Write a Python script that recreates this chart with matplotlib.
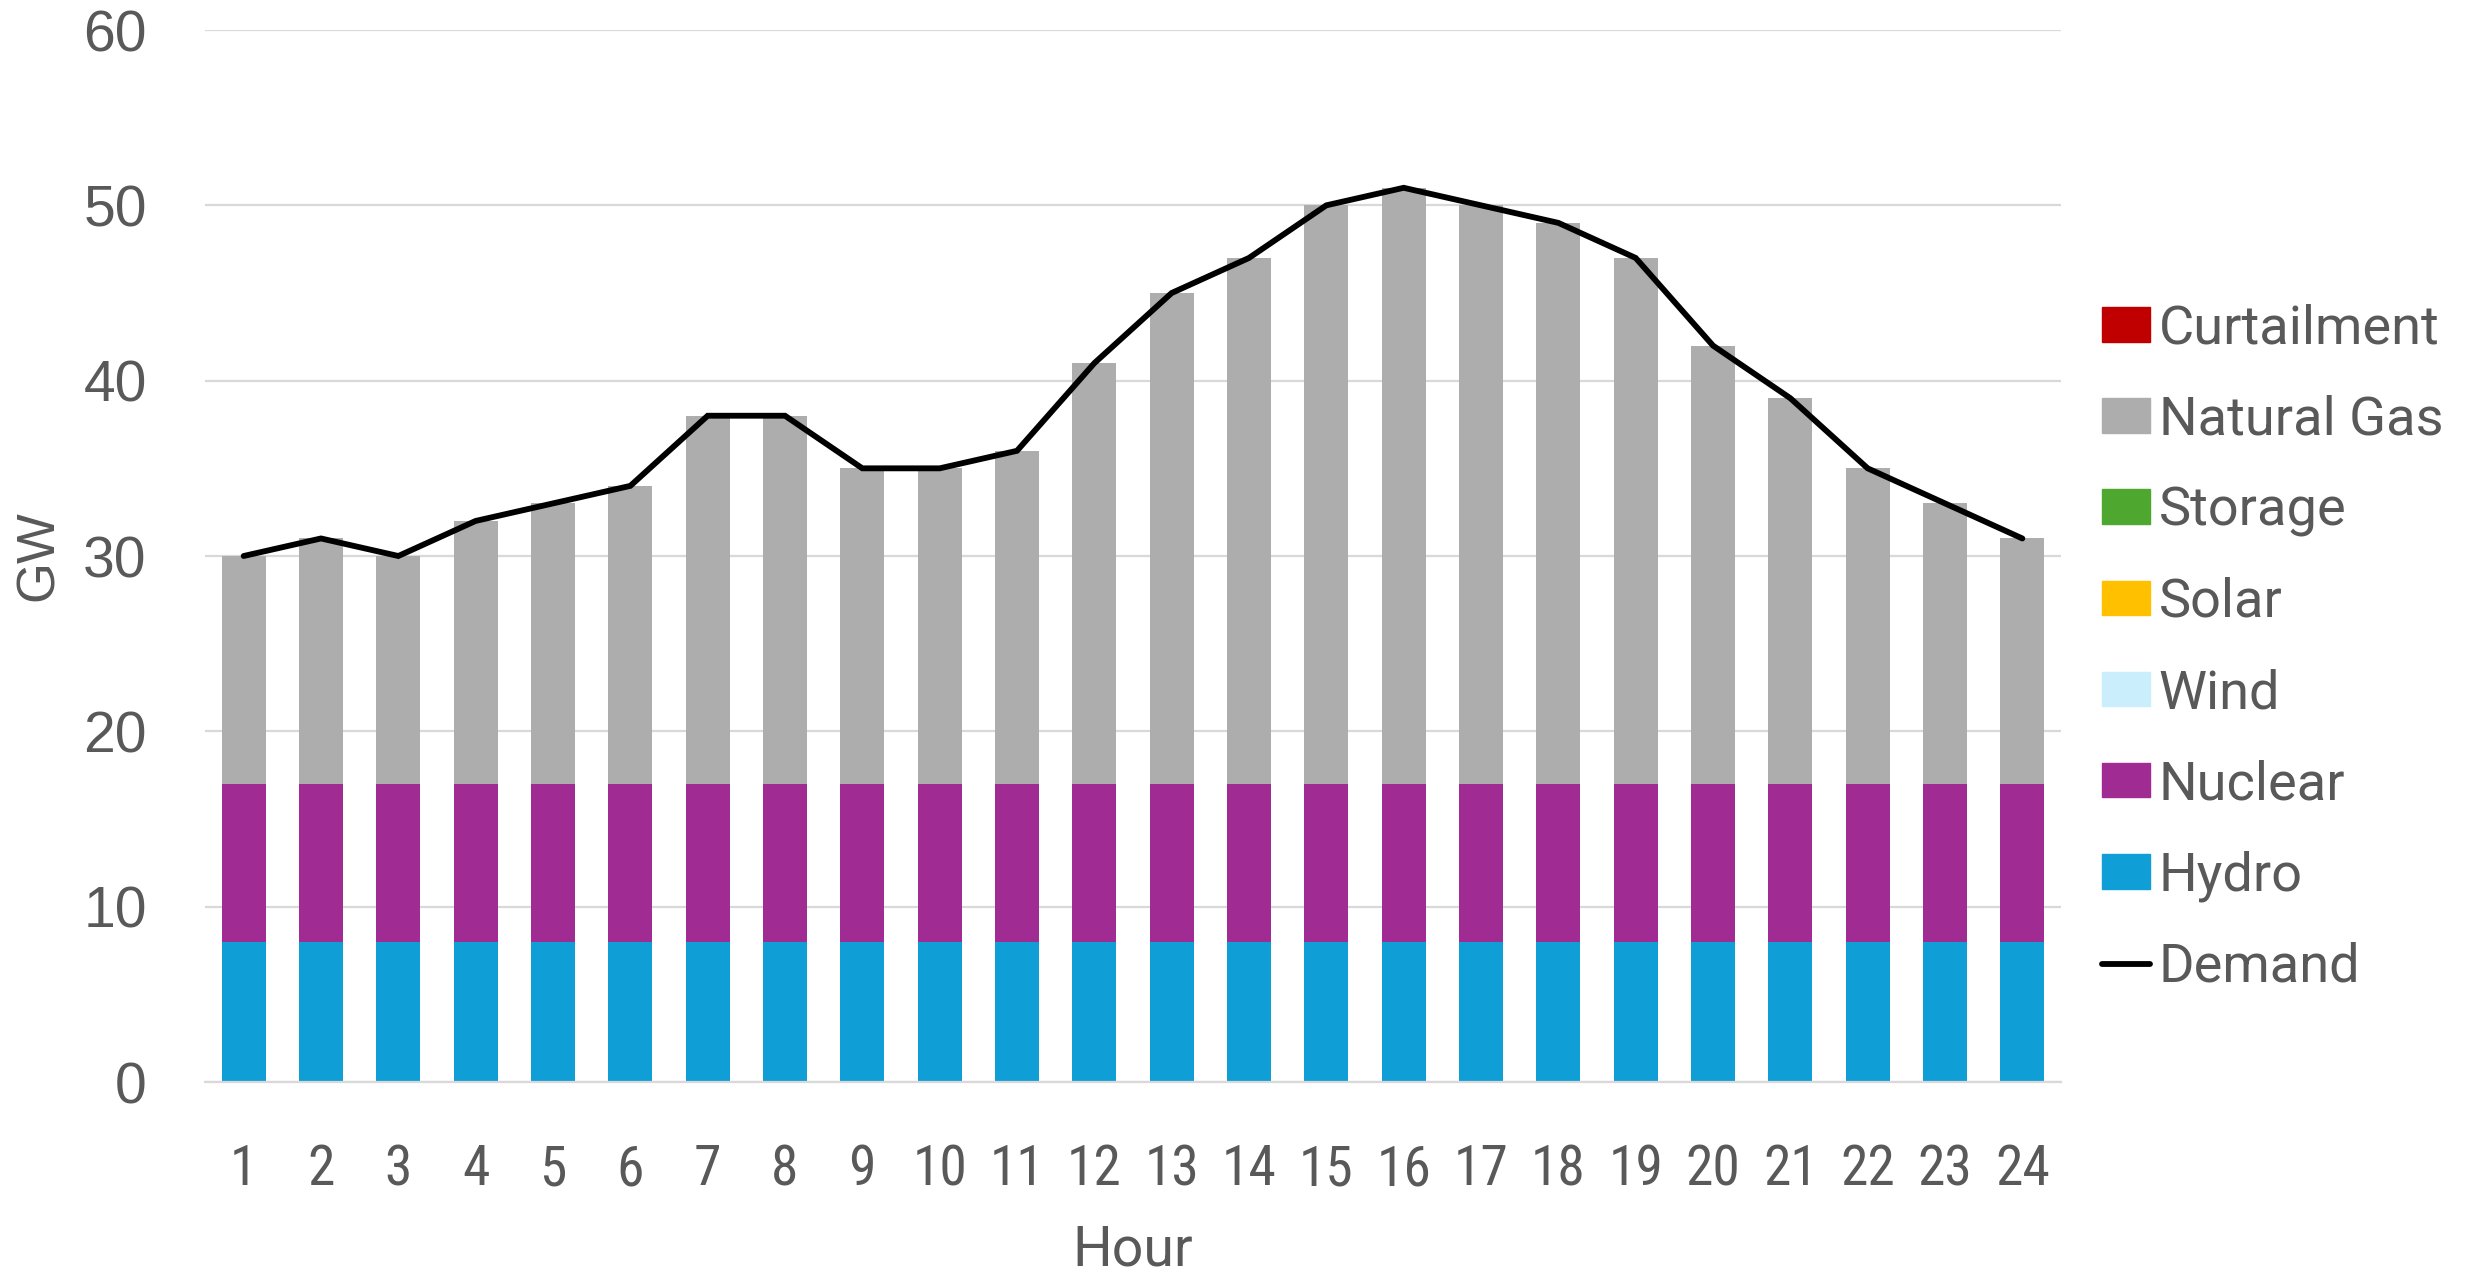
import matplotlib
matplotlib.use("Agg")
import matplotlib.pyplot as plt
import numpy as np
from matplotlib.patches import Patch
from matplotlib.lines import Line2D

hours = list(range(1, 25))
hydro = [8] * 24
nuclear = [9] * 24
wind = [0] * 24
solar = [0] * 24
storage = [0] * 24
natural_gas = [13, 14, 13, 15, 16, 17, 21, 21, 18, 18, 19, 24,
               28, 30, 33, 34, 33, 32, 30, 25, 22, 18, 16, 14]
curtailment = [0] * 24
demand = [30, 31, 30, 32, 33, 34, 38, 38, 35, 35, 36, 41,
          45, 47, 50, 51, 50, 49, 47, 42, 39, 35, 33, 31]

series = [
    ("Hydro", hydro, "#0F9ED5"),
    ("Nuclear", nuclear, "#A02B93"),
    ("Wind", wind, "#CAEEFB"),
    ("Solar", solar, "#FFC000"),
    ("Storage", storage, "#4EA72E"),
    ("Natural Gas", natural_gas, "#ADADAD"),
    ("Curtailment", curtailment, "#C00000"),
]

TXT = "#595959"
plt.rcParams['font.family'] = ['Liberation Sans', 'DejaVu Sans']

fig = plt.figure(figsize=(24.73, 12.72), dpi=100)
ax = fig.add_axes([205 / 2473, 1 - 1082 / 1272, (2061 - 205) / 2473, (1082 - 30) / 1272])

x = np.array(hours)
bottom = np.zeros(24)
for name, vals, col in series:
    v = np.array(vals, dtype=float)
    ax.bar(x, v, width=0.57, bottom=bottom, color=col, zorder=2)
    bottom += v

ax.plot(x, demand, color="black", lw=4.2, zorder=3, solid_joinstyle='miter',
        solid_capstyle='round')

ax.set_xlim(0.5, 24.5)
ax.set_ylim(0, 60)
ax.set_yticks(range(0, 61, 10))
ax.set_xticks(x)
ax.set_xticklabels([str(h) for h in hours], family=['Roboto Condensed', 'Liberation Sans'])
ax.grid(axis='y', color="#D9D9D9", lw=1.6, zorder=0)
ax.set_axisbelow(True)
for s in ['top', 'right', 'left']:
    ax.spines[s].set_visible(False)
ax.spines['bottom'].set_color("#D9D9D9")
ax.spines['bottom'].set_linewidth(1.6)
ax.tick_params(axis='both', length=0, colors=TXT)
ax.tick_params(axis='y', labelsize=41, pad=42)
ax.tick_params(axis='x', labelsize=40, pad=44)

ax.set_xlabel("Hour", fontsize=40, color=TXT, labelpad=20, family=['Roboto', 'Liberation Sans'])
ax.set_ylabel("GW", fontsize=38, color=TXT, labelpad=14)

handles = [Patch(color=c) for n, v, c in reversed(series)]
labels = [n for n, v, c in reversed(series)]
handles.append(Line2D([0], [0], color="black", lw=4.2, solid_capstyle='round'))
labels.append("Demand")
leg = fig.legend(handles, labels, loc='center left', bbox_to_anchor=(2102 / 2473, 1 - 648 / 1272),
                 frameon=False, prop={'family': ['Roboto', 'Liberation Sans'], 'size': 39},
                 handlelength=0.88, handleheight=0.61,
                 handletextpad=0.17, labelspacing=0.74, borderaxespad=0, borderpad=0)
for t in leg.get_texts():
    t.set_color(TXT)

fig.savefig("out.png", dpi=100)
